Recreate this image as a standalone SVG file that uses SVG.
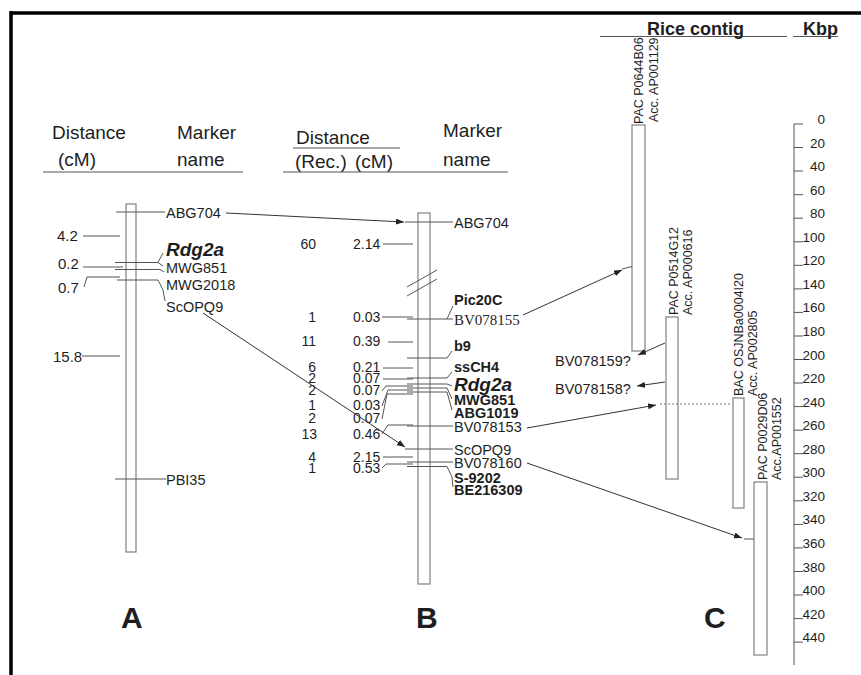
<svg xmlns="http://www.w3.org/2000/svg" width="861" height="675" viewBox="0 0 861 675">
<defs>
<marker id="ah" markerWidth="8" markerHeight="6" refX="8" refY="3" orient="auto" markerUnits="userSpaceOnUse">
<path d="M0,0 L8,3 L0,6 z" fill="#222"/>
</marker>
<style>
text{font-family:"Liberation Sans",Arial,sans-serif;fill:#1e1e1e}
.h{font-size:19px}
.n{font-size:15px}
.d{font-size:14px}
.m{font-size:14.5px}
.b{font-weight:bold}
.bi{font-weight:bold;font-style:italic;font-size:19px}
.sr{font-family:"Liberation Serif","Times New Roman",serif}
.k{font-size:13.5px;text-anchor:end}
.v{font-size:12.5px}
.L{font-size:30px;font-weight:bold}
.ln{stroke:#555;stroke-width:1;fill:none}
.bar{fill:#fff;stroke:#808080;stroke-width:1.2}
.ar{stroke:#333;stroke-width:1;fill:none;marker-end:url(#ah)}
</style>
</defs>
<rect width="861" height="675" fill="#fff"/>
<g id="frame">
<line x1="11" y1="13" x2="861" y2="13" stroke="#000" stroke-width="3.5"/>
<line x1="11" y1="11" x2="11" y2="675" stroke="#000" stroke-width="3.5"/>
</g>
<g id="headerA">
<text class="h" x="52" y="139">Distance</text>
<text class="h" x="177" y="139">Marker</text>
<text class="h" x="58" y="166">(cM)</text>
<text class="h" x="177" y="166">name</text>
<line class="ln" x1="43" y1="172" x2="243" y2="172"/>
</g>
<g id="headerB">
<text class="h" x="296" y="144">Distance</text>
<line class="ln" x1="293" y1="148" x2="400" y2="148"/>
<text class="h" x="295" y="168">(Rec.)</text>
<text class="h" x="355" y="168">(cM)</text>
<text class="h" x="443" y="137">Marker</text>
<text class="h" x="443" y="166">name</text>
<line class="ln" x1="283" y1="172" x2="508" y2="172"/>
</g>
<g id="headerC">
<line class="ln" x1="600" y1="36.5" x2="787" y2="36.5"/>
<line class="ln" x1="793" y1="36.5" x2="838" y2="36.5"/>
<text class="b" font-size="18" x="647" y="35">Rice contig</text>
<text class="b" font-size="18" x="803" y="35">Kbp</text>
</g>
<g id="chromA">
<rect class="bar" x="126" y="204" width="10" height="348"/>
<text class="n" x="57" y="241">4.2</text>
<text class="n" x="58" y="269">0.2</text>
<text class="n" x="58" y="293">0.7</text>
<text class="n" x="53" y="362">15.8</text>
<text class="m" x="166" y="218">ABG704</text>
<text class="bi" x="166" y="256">Rdg2a</text>
<text class="m" x="166" y="273">MWG851</text>
<text class="m" x="166" y="290">MWG2018</text>
<text class="m" x="166" y="312">ScOPQ9</text>
<text class="m" x="166" y="485">PBI35</text>
<line class="ln" x1="116" y1="212" x2="165" y2="212"/>
<line class="ln" x1="83" y1="236" x2="120" y2="236"/>
<line class="ln" x1="83" y1="267" x2="123" y2="267"/>
<polyline class="ln" points="84,287 87,277 120,277"/>
<line class="ln" x1="82" y1="356" x2="120" y2="356"/>
<polyline class="ln" points="115,262.5 158,262.5 163,253"/>
<polyline class="ln" points="158,262.5 163,266"/>
<polyline class="ln" points="115,269.5 160,269.5 164,272"/>
<polyline class="ln" points="117,280 158,280 163,290 165,301"/>
<line class="ln" x1="115" y1="479" x2="166" y2="479"/>
</g>
<g id="chromB">
<rect class="bar" x="418" y="213" width="12" height="371"/>
<line class="ln" x1="407" y1="287" x2="437" y2="270"/>
<line class="ln" x1="407" y1="296" x2="437" y2="279"/>
<g text-anchor="end" class="d">
<text x="316" y="249">60</text>
<text x="316" y="322">1</text>
<text x="316" y="346">11</text>
<text x="316" y="372">6</text>
<text x="316" y="383">2</text>
<text x="316" y="395">2</text>
<text x="316" y="410">1</text>
<text x="316" y="423">2</text>
<text x="317" y="439">13</text>
<text x="316" y="462">4</text>
<text x="316" y="473">1</text>
</g>
<g class="d">
<text x="353" y="249">2.14</text>
<text x="353" y="322">0.03</text>
<text x="353" y="346">0.39</text>
<text x="353" y="372">0.21</text>
<text x="353" y="383">0.07</text>
<text x="353" y="395">0.07</text>
<text x="353" y="410">0.03</text>
<text x="353" y="423">0.07</text>
<text x="353" y="439">0.46</text>
<text x="353" y="462">2.15</text>
<text x="353" y="473">0.53</text>
</g>
<text class="m" x="454" y="228">ABG704</text>
<text class="m b" x="454" y="305">Pic20C</text>
<text class="sr" font-size="15" x="454" y="325">BV078155</text>
<text class="m b" x="454" y="351">b9</text>
<text class="m b" x="454" y="372">ssCH4</text>
<text class="bi" x="454" y="391">Rdg2a</text>
<text class="m b" x="454" y="405">MWG851</text>
<text class="m b" x="454" y="418">ABG1019</text>
<text class="m" x="454" y="432">BV078153</text>
<text class="m" x="454" y="455">ScOPQ9</text>
<text class="m" x="454" y="468">BV078160</text>
<text class="m b" x="454" y="483">S-9202</text>
<text class="m b" x="454" y="495">BE216309</text>
<line class="ln" x1="405" y1="222" x2="453" y2="222"/>
<line class="ln" x1="383" y1="244" x2="413" y2="244"/>
<line class="ln" x1="382" y1="317" x2="413" y2="317"/>
<polyline class="ln" points="407,319 447,319 453,306"/>
<line class="ln" x1="447" y1="319" x2="453" y2="319"/>
<line class="ln" x1="388" y1="342" x2="413" y2="342"/>
<polyline class="ln" points="407,358 447,358 452,351"/>
<line class="ln" x1="383" y1="368" x2="413" y2="368"/>
<polyline class="ln" points="407,378 447,378 452,372"/>
<line class="ln" x1="383" y1="379" x2="413" y2="379"/>
<polyline class="ln" points="407,384 447,384 452,386"/>
<polyline class="ln" points="382,391 386,386 413,386"/>
<polyline class="ln" points="407,388 447,388 452,399"/>
<polyline class="ln" points="382,406 388,390 413,390"/>
<polyline class="ln" points="407,392 447,392 452,410"/>
<polyline class="ln" points="382,419 387,394 413,394"/>
<polyline class="ln" points="382,434 388,425 413,425"/>
<line class="ln" x1="407" y1="426" x2="453" y2="426"/>
<line class="ln" x1="405" y1="449" x2="453" y2="449"/>
<line class="ln" x1="383" y1="457" x2="413" y2="457"/>
<line class="ln" x1="407" y1="462" x2="453" y2="462"/>
<polyline class="ln" points="382,468 386,464 413,464"/>
<polyline class="ln" points="407,466.5 447,466.5 452,477 453,487"/>
</g>
<g id="contig1">
<rect class="bar" x="632" y="125" width="13" height="226"/>
<text class="v" transform="translate(643,124) rotate(-90)">PAC P0644B06</text>
<text class="v" transform="translate(658,122) rotate(-90)">Acc. AP001129</text>
</g>
<g id="contig2">
<rect class="bar" x="666" y="317" width="12" height="162"/>
<text class="v" transform="translate(678,315) rotate(-90)">PAC P0514G12</text>
<text class="v" transform="translate(692,315) rotate(-90)">Acc. AP000616</text>
</g>
<g id="contig3">
<rect class="bar" x="733" y="398" width="11" height="110"/>
<text class="v" transform="translate(743,396) rotate(-90)">BAC OSJNBa0004I20</text>
<text class="v" transform="translate(757,396) rotate(-90)">Acc. AP002805</text>
</g>
<g id="contig4">
<rect class="bar" x="754" y="482" width="13" height="173"/>
<text class="v" transform="translate(767,480) rotate(-90)">PAC P0029D06</text>
<text class="v" transform="translate(781,480) rotate(-90)">Acc.AP001552</text>
</g>
<g id="unplaced">
<text class="m" x="555" y="366">BV078159?</text>
<text class="m" x="555" y="394">BV078158?</text>
</g>
<g id="scale">
<line class="ln" x1="794" y1="124" x2="794" y2="665"/>
<g class="ln">
<path d="M794 124h9M794 147.5h9M794 171h9M794 194.7h9M794 218.2h9M794 241.8h9M794 265.3h9M794 288.9h9M794 312.4h9M794 336h9M794 359.5h9M794 383h9M794 406.6h9M794 430.2h9M794 453.7h9M794 477.2h9M794 500.8h9M794 524.4h9M794 547.9h9M794 571.5h9M794 595h9M794 618.6h9M794 642.1h9"/>
</g>
<g class="sr k">
<text x="825" y="124">0</text>
<text x="825" y="147.5">20</text>
<text x="825" y="171">40</text>
<text x="825" y="194.7">60</text>
<text x="825" y="218.2">80</text>
<text x="825" y="241.8">100</text>
<text x="825" y="265.3">120</text>
<text x="825" y="288.9">140</text>
<text x="825" y="312.4">160</text>
<text x="825" y="336">180</text>
<text x="825" y="359.5">200</text>
<text x="825" y="383">220</text>
<text x="825" y="406.6">240</text>
<text x="825" y="430.2">260</text>
<text x="825" y="453.7">280</text>
<text x="825" y="477.2">300</text>
<text x="825" y="500.8">320</text>
<text x="825" y="524.4">340</text>
<text x="825" y="547.9">360</text>
<text x="825" y="571.5">380</text>
<text x="825" y="595">400</text>
<text x="825" y="618.6">420</text>
<text x="825" y="642.1">440</text>
</g>
</g>
<g id="labels">
<text class="L" x="121" y="628">A</text>
<text class="L" x="416" y="628">B</text>
<text class="L" x="704" y="628">C</text>
</g>
<g id="connectors">
<line class="ar" x1="226" y1="213" x2="404" y2="222"/>
<line class="ar" x1="203" y1="313" x2="405" y2="447"/>
<line class="ar" x1="523" y1="315" x2="622" y2="270"/>
<line class="ln" x1="622" y1="269" x2="632" y2="266.5"/>
<line class="ar" x1="665" y1="343" x2="638" y2="355"/>
<line class="ar" x1="665" y1="382" x2="637" y2="386"/>
<line class="ar" x1="527" y1="428" x2="656" y2="405"/>
<line x1="660" y1="404" x2="733" y2="404" stroke="#777" stroke-width="1" stroke-dasharray="2,2"/>
<line class="ar" x1="527" y1="463" x2="742" y2="538"/>
<line class="ln" x1="744" y1="539" x2="754" y2="539"/>
</g>
</svg>
